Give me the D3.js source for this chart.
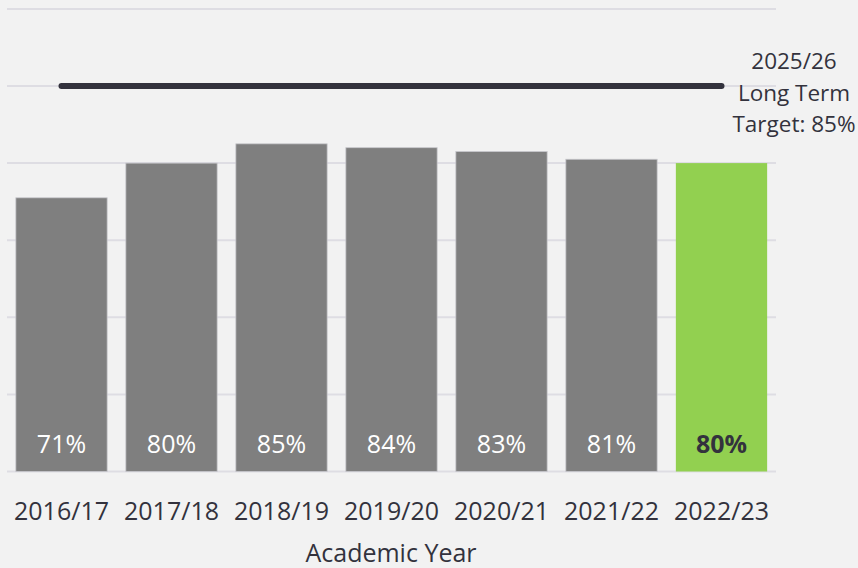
<!DOCTYPE html>
<html><head><meta charset="utf-8">
<script src="https://cdn.jsdelivr.net/npm/d3@7"></script>
<style>
html,body{margin:0;padding:0;background:#f2f2f2;}
svg{display:block;font-family:"Open Sans","Noto Sans",sans-serif;}
</style></head>
<body>
<svg id="chart" width="858" height="568"></svg>
<script>
const years = ["2016/17","2017/18","2018/19","2019/20","2020/21","2021/22","2022/23"];
const values = [71, 80, 85, 84, 83, 81, 80];
const yTicks = [0, 20, 40, 60, 80, 100, 120];
const targetLineLevel = [100];
const targetLabel = ["2025/26", "Long Term", "Target: 85%"];
const axisTitle = "Academic Year";

const svg = d3.select("#chart");
const x = d3.scaleBand().domain(years).range([6.5, 776.5]).paddingInner(0.17).paddingOuter(0.085);
const y = d3.scaleLinear().domain([0, 120]).range([471.5, 8.9]);

// grid
svg.append("g").selectAll("line").data(yTicks).join("line")
  .attr("x1", 7).attr("x2", 776)
  .attr("y1", d => y(d)).attr("y2", d => y(d))
  .attr("stroke", "#dedde3").attr("stroke-width", 2);

// bars
const last = years.length - 1;
svg.append("g").selectAll("rect").data(values).join("rect")
  .attr("x", (d,i) => x(years[i]))
  .attr("width", x.bandwidth())
  .attr("y", d => y(d))
  .attr("height", d => y(0) - y(d))
  .attr("fill", (d,i) => i === last ? "#92d050" : "#7f7f7f")
  .attr("stroke", (d,i) => i === last ? "none" : "#c8c8cc")
  .attr("stroke-width", 0.8);

// target line
svg.append("line")
  .attr("x1", x(years[0]) + x.bandwidth()/2)
  .attr("x2", x(years[last]) + x.bandwidth()/2)
  .attr("y1", y(targetLineLevel[0])).attr("y2", y(targetLineLevel[0]))
  .attr("stroke", "#33323d").attr("stroke-width", 6).attr("stroke-linecap", "round");

// value labels
svg.append("g").selectAll("text").data(values).join("text")
  .attr("x", (d,i) => x(years[i]) + x.bandwidth()/2)
  .attr("y", 453)
  .attr("text-anchor", "middle")
  .attr("font-size", 25)
  .attr("font-weight", (d,i) => i === last ? 700 : 400)
  .attr("fill", (d,i) => i === last ? "#33323d" : "#ffffff")
  .text(d => d + "%");

// x axis labels
svg.append("g").selectAll("text").data(years).join("text")
  .attr("x", d => x(d) + x.bandwidth()/2)
  .attr("y", 520)
  .attr("text-anchor", "middle")
  .attr("font-size", 25)
  .attr("fill", "#33323d")
  .text(d => d);

// axis title
svg.append("text")
  .attr("x", 391).attr("y", 562)
  .attr("text-anchor", "middle")
  .attr("font-size", 25)
  .attr("fill", "#33323d")
  .text(axisTitle);

// target label
svg.append("g").selectAll("text").data(targetLabel).join("text")
  .attr("x", 794)
  .attr("y", (d,i) => 69 + i * 31.5)
  .attr("text-anchor", "middle")
  .attr("font-size", 22.5)
  .attr("fill", "#33323d")
  .text(d => d);
</script>
</body></html>
